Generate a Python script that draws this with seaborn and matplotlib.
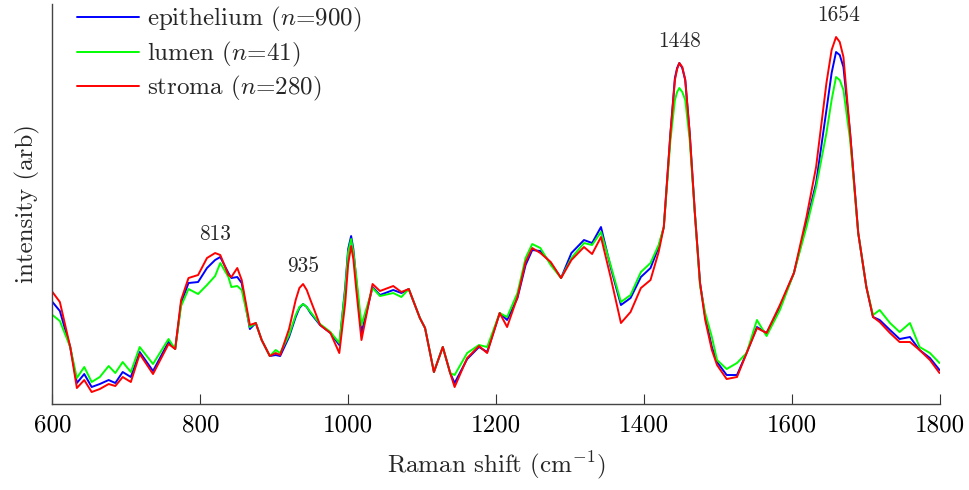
import numpy as np
import pandas as pd
import matplotlib
matplotlib.use("Agg")
import matplotlib.pyplot as plt
import seaborn as sns

# Raman shift grid (cm^-1)
wavenumber = [600, 610, 624, 633, 643, 653, 664, 676, 685, 695, 706, 718, 736, 757, 766, 774, 784,
              797, 809, 820, 827, 838, 842, 850, 856, 867, 875, 883, 894, 902, 908, 920, 929, 934, 939,
              944, 949, 962, 976, 988, 996, 1000, 1004, 1007, 1011, 1018, 1033, 1043, 1061, 1072, 1082,
              1097, 1104, 1116, 1128, 1138, 1144, 1161, 1177, 1188, 1205, 1215, 1229, 1240, 1249, 1260,
              1274, 1288, 1302, 1319, 1330, 1342, 1355, 1369, 1382, 1396, 1409, 1420, 1427, 1436, 1442,
              1445, 1448, 1452, 1456, 1462, 1469, 1476, 1483, 1492, 1499, 1512, 1526, 1539, 1553, 1566,
              1584, 1603, 1620, 1633, 1647, 1654, 1660, 1665, 1670, 1679, 1690, 1701, 1710, 1719, 1733,
              1746, 1760, 1773, 1787, 1800]

epithelium = [102, 93, 57, 21, 30, 17, 20, 24, 21, 32, 27, 52, 33, 62, 55, 101, 121,
              122, 136, 144, 147, 131, 126, 127, 121, 75, 81, 64, 48, 49, 48, 67, 87, 96, 100,
              97, 91, 79, 71, 59, 117, 155, 168, 155, 124, 71, 117, 109, 114, 111, 115,
              86, 76, 32, 57, 31, 21, 45, 57, 52, 91, 84, 106, 139, 154, 153,
              141, 126, 151, 164, 161, 177, 137, 99, 106, 127, 136, 157, 177, 271, 326,
              336, 341, 336, 324, 271, 191, 121, 87, 57, 42, 29, 29, 51, 77, 71,
              97, 131, 181, 221, 294, 331, 352, 349, 337, 271, 171, 117, 87, 84, 74,
              65, 67, 54, 46, 34]

lumen = [89, 83, 57, 26, 37, 22, 27, 38, 31, 42, 32, 57, 40, 65, 55, 98, 115,
         110, 119, 128, 141, 127, 117, 118, 114, 77, 81, 64, 48, 54, 51, 69, 89, 97, 100,
         97, 92, 80, 72, 61, 114, 152, 165, 152, 127, 79, 116, 108, 111, 107, 115,
         86, 76, 32, 57, 31, 29, 51, 59, 57, 91, 87, 111, 146, 160, 156,
         139, 126, 146, 161, 159, 172, 139, 102, 109, 132, 141, 159, 177, 264, 304,
         312, 316, 312, 304, 264, 191, 118, 91, 67, 44, 35, 41, 51, 84, 68,
         94, 131, 177, 217, 271, 304, 327, 324, 314, 264, 171, 117, 89, 94, 81,
         72, 81, 57, 51, 41]

stroma = [112, 102, 57, 16, 24, 12, 15, 20, 18, 27, 22, 50, 30, 60, 55, 104, 126,
          129, 146, 151, 149, 129, 127, 136, 124, 79, 81, 64, 48, 51, 49, 75, 104, 116, 120,
          114, 104, 79, 71, 51, 101, 140, 158, 145, 114, 64, 120, 113, 118, 112, 115,
          86, 76, 32, 57, 31, 17, 46, 58, 51, 91, 77, 107, 142, 156, 151,
          142, 126, 144, 157, 150, 167, 127, 81, 92, 116, 124, 152, 177, 271, 324,
          335, 341, 337, 324, 271, 191, 121, 84, 54, 39, 25, 27, 51, 76, 71,
          99, 131, 187, 237, 321, 354, 367, 362, 347, 271, 171, 117, 87, 82, 71,
          62, 62, 54, 44, 31]

series_names = ["epithelium ($n$=900)", "lumen ($n$=41)", "stroma ($n$=280)"]
series_colors = ["#0000ff", "#00ff00", "#ff0000"]

peak_labels = ["813", "935", "1448", "1654"]
peak_label_x = [820, 939, 1448, 1663]
peak_label_y = [170, 138, 363, 389]

x_ticks = [600, 800, 1000, 1200, 1400, 1600, 1800]

df = pd.concat([
    pd.DataFrame({"shift": wavenumber, "intensity": vals, "tissue": name})
    for name, vals in zip(series_names, [epithelium, lumen, stroma])
], ignore_index=True)

sns.set_style("white")
plt.rcParams["font.family"] = ["cmr10", "DejaVu Serif"]
plt.rcParams["mathtext.fontset"] = "cm"
plt.rcParams["axes.formatter.use_mathtext"] = True
plt.rcParams["axes.unicode_minus"] = False

fig = plt.figure(figsize=(9.7, 4.9), dpi=100)
ax = fig.add_axes([0.0541, 0.1765, 0.9145, 0.8153])

sns.lineplot(data=df, x="shift", y="intensity", hue="tissue", hue_order=series_names,
             palette=series_colors, linewidth=1.4, ax=ax, estimator=None, sort=False)
for ln in ax.get_lines():
    ln.set_solid_joinstyle("round")

ax.set_xlim(600, 1800)
ax.set_ylim(0.5, 400)
ax.set_xticks(x_ticks)
ax.set_xticklabels([str(t) for t in x_ticks])
ax.set_yticks([])
ax.tick_params(axis="x", direction="in", length=7, width=0.8, colors="#333333",
               labelcolor="black", labelsize=18, pad=8, bottom=True)

for s in ["top", "right"]:
    ax.spines[s].set_visible(False)
for s in ["left", "bottom"]:
    ax.spines[s].set_color("#444444")
    ax.spines[s].set_linewidth(1.0)

ax.set_xlabel(r"Raman shift (cm$^{-1}$)", fontsize=18, labelpad=9)
ax.set_ylabel("intensity (arb)", fontsize=18, labelpad=9)

for lab, lx, ly in zip(peak_labels, peak_label_x, peak_label_y):
    ax.text(lx, ly, lab, ha="center", va="center", fontsize=15.5)

leg = ax.legend(loc="upper left", bbox_to_anchor=(0.0276, 0.997), frameon=False,
                fontsize=18, borderpad=0, borderaxespad=0, handlelength=2.5,
                handletextpad=0.3, labelspacing=0.22)
for line in leg.get_lines():
    line.set_linewidth(1.4)

fig.savefig("out.png", dpi=100)
